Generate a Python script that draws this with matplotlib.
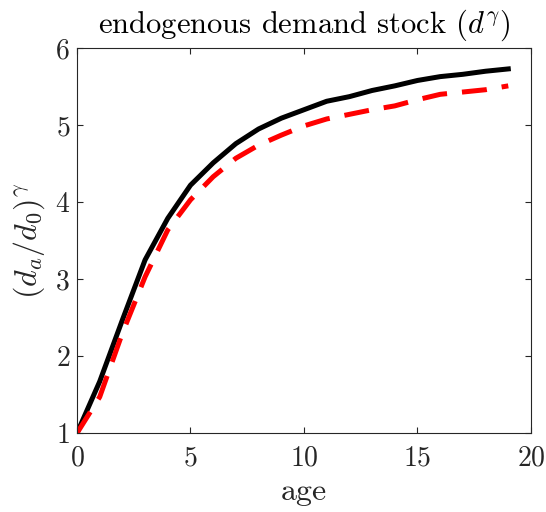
import numpy as np
import matplotlib.pyplot as plt
import matplotlib as mpl

mpl.rcParams['font.family'] = 'serif'
mpl.rcParams['font.serif'] = ['cmr10', 'DejaVu Serif']
mpl.rcParams['mathtext.fontset'] = 'cm'
mpl.rcParams['axes.formatter.use_mathtext'] = True

age = np.arange(0, 20)
endog = [1.00, 1.67, 2.47, 3.25, 3.79, 4.22, 4.51, 4.76, 4.95, 5.09,
         5.20, 5.31, 5.37, 5.45, 5.51, 5.58, 5.63, 5.66, 5.70, 5.73]
alt = [1.00, 1.47, 2.30, 3.03, 3.64, 4.03, 4.33, 4.57, 4.74, 4.87,
       4.99, 5.08, 5.14, 5.20, 5.25, 5.33, 5.40, 5.43, 5.46, 5.51]

fig = plt.figure(figsize=(5.46, 5.12), dpi=100)
ax = fig.add_axes([0.141, 0.154, 0.8315, 0.752])

ax.plot(age, endog, color='black', linewidth=3.6, solid_joinstyle='round')
ax.plot(age, alt, color='red', linewidth=3.6, linestyle=(0, (5, 3)))

ax.set_xlim(0, 20)
ax.set_ylim(1, 6)
ax.set_xticks([0, 5, 10, 15, 20])
ax.set_yticks([1, 2, 3, 4, 5, 6])
ax.tick_params(direction='in', length=4, width=0.8, top=True, right=True,
               labelsize=20, colors='0.15', pad=5)
ax.tick_params(axis='x', pad=9)
for s in ax.spines.values():
    s.set_color('0.15')
    s.set_linewidth(0.8)

ax.set_xlabel('age', fontsize=23, color='0.15', labelpad=5)
ax.set_ylabel(r'$(d_a/d_0)^\gamma$', fontsize=23, color='0.15', labelpad=6)
ax.set_title(r'endogenous demand stock ($d^\gamma$)', fontsize=22, pad=11)

fig.savefig('out.png', dpi=100)
